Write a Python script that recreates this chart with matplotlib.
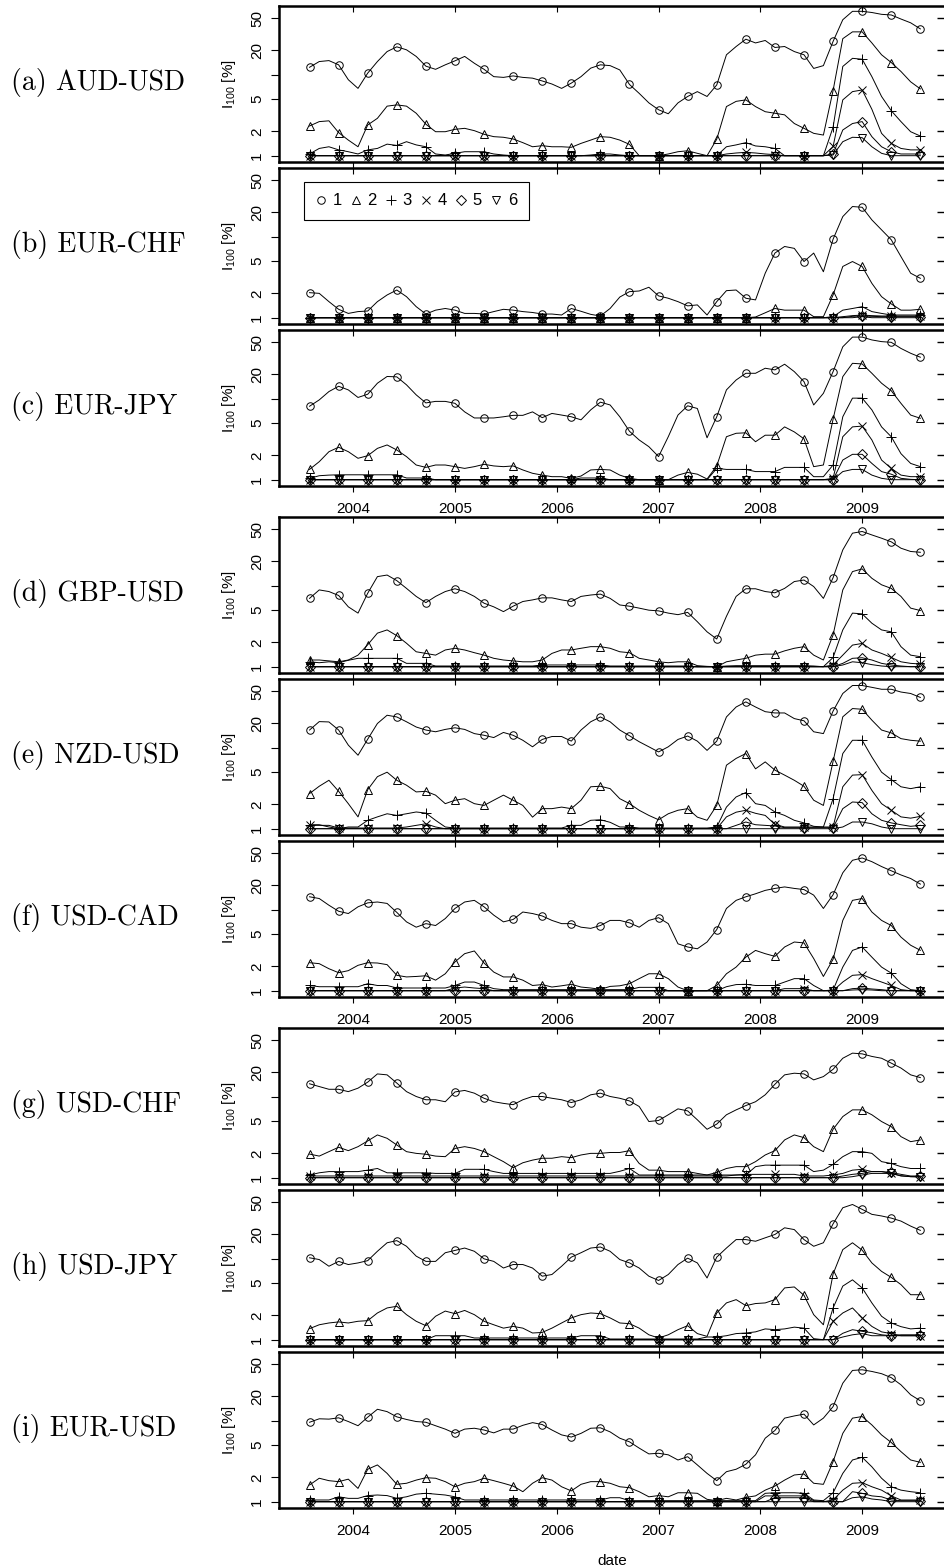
import numpy as np
import matplotlib
matplotlib.use("Agg")
import matplotlib.pyplot as plt
from matplotlib.lines import Line2D
from matplotlib.ticker import NullLocator

plt.rcParams["font.family"] = ["Liberation Sans", "DejaVu Sans"]
plt.rcParams["mathtext.fontset"] = "custom"
plt.rcParams["mathtext.rm"] = "Liberation Sans"
plt.rcParams["mathtext.it"] = "Liberation Sans:italic"
plt.rcParams["mathtext.bf"] = "Liberation Sans:bold"


def v(s):
    out = [float(t) for t in s.split()]
    assert len(out) == 64, (len(out), s[:40])
    return out


# time grid (decimal years), markers on every 3rd point
dates = np.linspace(2003.571, 2009.571, 64)
years = [2004, 2005, 2006, 2007, 2008, 2009]
year_labels = ["2004", "2005", "2006", "2007", "2008", "2009"]
y_ticks = [1, 2, 5, 10, 20, 50]
y_tick_labels = ["1", "2", "5", "", "20", "50"]
series_names = ["1", "2", "3", "4", "5", "6"]
pair_labels = ["(a) AUD-USD", "(b) EUR-CHF", "(c) EUR-JPY", "(d) GBP-USD",
               "(e) NZD-USD", "(f) USD-CAD", "(g) USD-CHF", "(h) USD-JPY",
               "(i) EUR-USD"]

# ---------------- (a) AUD-USD ----------------
aud_usd = [
    v("12.4 14.6 15.0 13.3 8.7 6.8 10.5 14.6 19.4 22.2 "
      "20.4 16.9 12.8 11.7 13.3 14.9 16.9 13.9 11.7 9.5 "
      "9.3 9.7 9.3 9.1 8.4 7.7 6.8 7.9 9.5 12.1 "
      "13.3 13.0 11.5 7.6 5.9 4.5 3.7 3.3 4.5 5.4 "
      "6.2 5.4 7.5 17.7 22.4 27.6 24.8 26.6 21.8 22.4 "
      "19.4 17.7 12.0 13.0 25.9 48 61 61 59 56 "
      "55 49 44 37"),
    v("2.33 2.64 2.7 1.93 1.56 1.29 2.4 2.9 4.1 4.25 "
      "4.1 3.35 2.45 1.98 1.98 2.12 2.18 2.04 1.84 1.72 "
      "1.69 1.61 1.45 1.29 1.33 1.29 1.29 1.27 1.42 1.56 "
      "1.72 1.69 1.56 1.38 1.0 1.0 1.0 1.05 1.12 1.15 "
      "1.07 1.0 1.6 4.05 4.7 4.9 4.05 3.5 3.35 3.2 "
      "2.5 2.18 1.89 1.8 6.4 28 34 34 24.8 17.7 "
      "14.2 11 8.2 6.7"),
    v("1.05 1.23 1.29 1.18 1.12 1.05 1.18 1.23 1.39 1.34 "
      "1.49 1.36 1.29 1.05 1.02 1.07 1.12 1.12 1.12 1.05 "
      "1.02 1 1 1 1 1 1 1 1 1.02 "
      "1.05 1.05 1.02 1 1 1 1 1 1 1 "
      "1 1 1 1.29 1.36 1.45 1.32 1.29 1.23 1 "
      "1 1 1 1 2.25 12.7 16 15.6 9.5 5.4 "
      "3.6 2.64 1.98 1.75"),
    v("1 1 1 1 1 1 1 1 1 1 "
      "1 1 1 1 1 1 1 1 1 1 "
      "1 1 1 1 1 1 1 1 1 1 "
      "1 1 1 1 1 1 1 1 1 1 "
      "1 1 1 1.05 1.08 1.1 1.08 1.05 1.03 1 "
      "1 1 1 1 1.3 4.9 6.2 6.5 3.75 1.89 "
      "1.42 1.23 1.18 1.18"),
    v("1 1 1 1 1 1 1 1 1 1 "
      "1 1 1 1 1 1 1 1 1 1 "
      "1 1 1 1 1 1 1 1 1 1 "
      "1 1 1 1 1 1 1 1 1 1 "
      "1 1 1 1 1 1 1 1 1 1 "
      "1 1 1 1 1.05 2.08 2.5 2.64 1.72 1.29 "
      "1.12 1.05 1.05 1.05"),
    v("1 1 1 1 1 1 1 1 1 1 "
      "1 1 1 1 1 1 1 1 1 1 "
      "1 1 1 1 1 1 1 1 1 1 "
      "1 1 1 1 1 1 1 1 1 1 "
      "1 1 1 1 1 1 1 1 1 1 "
      "1 1 1 1 1.02 1.49 1.69 1.67 1.29 1.07 "
      "1 1 1 1"),
]

# ---------------- (b) EUR-CHF ----------------
eur_chf = [
    v("2.04 2.0 1.58 1.27 1.13 1.19 1.21 1.58 1.91 2.2 "
      "1.82 1.37 1.11 1.24 1.3 1.24 1.13 1.13 1.11 1.19 "
      "1.27 1.24 1.19 1.16 1.11 1.11 1.08 1.3 1.2 1.1 "
      "1.05 1.3 1.8 2.1 2.14 2.38 1.86 1.74 1.58 1.4 "
      "1.44 1.08 1.58 2.16 2.2 1.74 1.66 3.55 6.3 7.6 "
      "7.2 4.95 6.3 3.7 9.35 17.8 23.7 23.2 16.2 12.2 "
      "9.2 5.7 3.55 3.07"),
    v("1 1 1 1 1 1 1 1 1 1 "
      "1 1 1 1 1 1 1 1 1 1 "
      "1 1 1 1 1 1 1 1 1 1 "
      "1 1 1 1 1 1 1 1 1 1 "
      "1 1 1 1 1 1 1.02 1.15 1.3 1.24 "
      "1.24 1.24 1.03 1.03 1.91 4.3 4.95 4.3 2.66 1.82 "
      "1.48 1.24 1.24 1.27"),
    v("1 1 1 1 1 1 1 1 1 1 "
      "1 1 1 1 1 1 1 1 1 1 "
      "1 1 1 1 1 1 1 1 1 1 "
      "1 1 1 1 1 1 1 1 1 1 "
      "1 1 1 1 1 1 1 1 1 1 "
      "1 1 1 1 1.03 1.24 1.3 1.37 1.19 1.13 "
      "1.08 1.08 1.08 1.08"),
    v("1 1 1 1 1 1 1 1 1 1 "
      "1 1 1 1 1 1 1 1 1 1 "
      "1 1 1 1 1 1 1 1 1 1 "
      "1 1 1 1 1 1 1 1 1 1 "
      "1 1 1 1 1 1 1 1 1 1 "
      "1 1 1 1 1 1.03 1.06 1.08 1.06 1.05 "
      "1.05 1.05 1.05 1.05"),
    v("1 1 1 1 1 1 1 1 1 1 "
      "1 1 1 1 1 1 1 1 1 1 "
      "1 1 1 1 1 1 1 1 1 1 "
      "1 1 1 1 1 1 1 1 1 1 "
      "1 1 1 1 1 1 1 1 1 1 "
      "1 1 1 1 1 1 1.04 1.05 1.04 1.03 "
      "1.03 1.03 1.03 1.03"),
    v("1 1 1 1 1 1 1 1 1 1 "
      "1 1 1 1 1 1 1 1 1 1 "
      "1 1 1 1 1 1 1 1 1 1 "
      "1 1 1 1 1 1 1 1 1 1 "
      "1 1 1 1 1 1 1 1 1 1 "
      "1 1 1 1 1 1 1 1.03 1 1 "
      "1 1 1 1"),
]

# ---------------- (c) EUR-JPY ----------------
eur_jpy = [
    v("8.1 9.7 12.3 14.3 12.9 10.4 11.4 15.6 18.9 18.7 "
      "14.9 11.2 8.9 9.3 9.3 8.8 6.9 5.8 5.8 5.8 "
      "6.0 6.25 6.25 6.9 5.85 6.6 6.3 6.0 5.5 7.3 "
      "9.1 8.4 6.0 3.97 3.1 2.56 1.93 3.4 6.3 8.2 "
      "7.6 3.3 6.0 12.9 17.1 20.7 20.7 23.9 22.8 26.8 "
      "21.7 16.3 8.4 11.7 21.7 44 58 58 53.5 51 "
      "50 42 36.6 32.7"),
    v("1.34 1.67 2.22 2.52 2.22 1.84 1.98 2.44 2.69 2.33 "
      "1.93 1.52 1.42 1.52 1.52 1.45 1.38 1.45 1.55 1.48 "
      "1.45 1.48 1.32 1.2 1.14 1.09 1.09 1.04 1.11 1.32 "
      "1.34 1.32 1.14 1.04 1 1 1 1 1.14 1.23 "
      "1.17 1.02 1.48 3.4 3.75 3.8 2.95 3.55 3.55 4.5 "
      "3.9 3.2 1.45 1.52 5.6 18.8 27.5 27 20.7 15.6 "
      "12.6 8.8 6.3 5.75"),
    v("1.04 1.12 1.14 1.15 1.15 1.15 1.15 1.15 1.15 1.15 "
      "1.05 1.05 1.05 1 1 1 1 1 1 1 "
      "1 1 1 1 1 1 1 1 1.05 1.05 "
      "1.05 1 1 1 1 1 1 1 1 1 "
      "1 1 1.38 1.34 1.34 1.34 1.26 1.26 1.26 1.42 "
      "1.42 1.42 1.09 1.09 1.52 6.0 10.2 10.2 7.3 4.5 "
      "3.4 2.1 1.59 1.45"),
    v("1 1 1 1 1 1 1 1 1 1 "
      "1 1 1 1 1 1 1 1 1 1 "
      "1 1 1 1 1 1 1 1 1 1 "
      "1 1 1 1 1 1 1 1 1 1 "
      "1 1 1 1 1 1 1 1 1 1 "
      "1 1 1 1 1.04 3.4 4.5 4.6 3.1 1.75 "
      "1.38 1.14 1.09 1.09"),
    v("1 1 1 1 1 1 1 1 1 1 "
      "1 1 1 1 1 1 1 1 1 1 "
      "1 1 1 1 1 1 1 1 1 1 "
      "1 1 1 1 1 1 1 1 1 1 "
      "1 1 1 1 1 1 1 1 1 1 "
      "1 1 1 1 1 1.75 2.06 2.06 1.59 1.26 "
      "1.17 1.04 1.01 1"),
    v("1 1 1 1 1 1 1 1 1 1 "
      "1 1 1 1 1 1 1 1 1 1 "
      "1 1 1 1 1 1 1 1 1 1 "
      "1 1 1 1 1 1 1 1 1 1 "
      "1 1 1 1 1 1 1 1 1 1 "
      "1 1 1 1 1 1.26 1.34 1.34 1.14 1.04 "
      "1 1 1 1"),
]

# ---------------- (d) GBP-USD ----------------
gbp_usd = [
    v("7.0 8.9 8.5 7.6 5.5 4.6 8.1 13.0 13.6 11.6 "
      "9.3 7.4 6.2 7.4 8.5 9.2 8.5 7.4 6.1 5.5 "
      "4.8 5.6 6.4 6.7 7.1 7.1 6.7 6.4 7.4 7.7 "
      "7.9 7.0 5.8 5.6 5.3 5.0 4.9 4.6 4.4 4.7 "
      "3.6 2.7 2.2 4.2 7.4 9.2 9.2 8.5 8.2 9.3 "
      "11.3 11.8 9.8 7.0 12.6 27.8 44.8 47 42.6 38.8 "
      "35 29.2 26.6 26"),
    v("1.21 1.21 1.18 1.15 1.21 1.39 1.87 2.6 2.85 2.42 "
      "1.95 1.53 1.46 1.39 1.61 1.69 1.61 1.49 1.39 1.27 "
      "1.21 1.18 1.15 1.15 1.21 1.46 1.61 1.61 1.69 1.77 "
      "1.77 1.69 1.53 1.49 1.27 1.21 1.15 1.12 1.15 1.15 "
      "1.03 1.01 1.0 1.15 1.21 1.27 1.39 1.43 1.43 1.57 "
      "1.69 1.77 1.39 1.21 2.47 8.9 15 16.2 12.4 10.3 "
      "9.3 7.4 5.3 4.95"),
    v("1.15 1.12 1.15 1.12 1.2 1.27 1.27 1.27 1.27 1.27 "
      "1.1 1.1 1.1 1.02 1.02 1.02 1.02 1.02 1.02 1.02 "
      "1.02 1.02 1.02 1.02 1.05 1.05 1.05 1.05 1.05 1.05 "
      "1.05 1.02 1.02 1.02 1.02 1.02 1.02 1.02 1.02 1.02 "
      "1 1 1 1.02 1.03 1.03 1.03 1.03 1.03 1.03 "
      "1.03 1.03 1.02 1.0 1.3 2.85 4.6 4.5 3.45 2.85 "
      "2.7 1.77 1.39 1.33"),
    v("1 1 1 1 1 1 1 1 1 1 "
      "1 1 1 1 1 1 1 1 1 1 "
      "1 1 1 1 1 1 1 1 1 1 "
      "1 1 1 1 1 1 1 1 1 1 "
      "1 1 1 1 1 1 1 1 1 1 "
      "1 1 1 1 1.05 1.39 1.85 1.94 1.61 1.46 "
      "1.3 1.15 1.1 1.08"),
    v("1 1 1 1 1 1 1 1 1 1 "
      "1 1 1 1 1 1 1 1 1 1 "
      "1 1 1 1 1 1 1 1 1 1 "
      "1 1 1 1 1 1 1 1 1 1 "
      "1 1 1 1 1 1 1 1 1 1 "
      "1 1 1 1 1 1.1 1.27 1.29 1.21 1.1 "
      "1.05 1.02 1 1"),
    v("1 1 1 1 1 1 1 1 1 1 "
      "1 1 1 1 1 1 1 1 1 1 "
      "1 1 1 1 1 1 1 1 1 1 "
      "1 1 1 1 1 1 1 1 1 1 "
      "1 1 1 1 1 1 1 1 1 1 "
      "1 1 1 1 1 1.05 1.15 1.12 1.06 1.02 "
      "1 1 1 1"),
]

# ---------------- (e) NZD-USD ----------------
nzd_usd = [
    v("16.6 21.1 20.9 16.6 10.8 8.1 12.8 20.0 25.3 24.1 "
      "21.0 18.1 16.6 15.8 16.9 17.7 16.9 15.0 14.3 13.4 "
      "15.5 14.3 12.4 10.3 12.7 13.8 13.8 12.1 16.6 21.0 "
      "24.1 21.0 16.6 14.1 11.9 10.3 8.9 10.3 12.7 14.0 "
      "12.1 9.3 12.1 24.1 32 37 32 28 27 27 "
      "23 21.6 15.8 15.0 28.5 47 59 59 56 53 "
      "53 49 47 42"),
    v("2.72 3.35 3.97 2.9 2.04 1.4 3.04 4.4 5.0 3.97 "
      "3.45 2.85 2.9 2.6 2.04 2.25 2.35 2.04 1.94 2.25 "
      "2.6 2.25 1.94 1.39 1.77 1.77 1.85 1.77 2.25 3.3 "
      "3.35 3.13 2.35 2.04 1.69 1.46 1.29 1.53 1.69 1.77 "
      "1.39 1.27 1.94 6.1 7.4 8.5 5.5 6.7 5.3 4.6 "
      "3.97 3.35 2.25 1.94 6.8 24.2 30.6 30 22 16.6 "
      "15.3 13.0 12.4 12.1"),
    v("1.12 1.12 1.05 1.0 1.05 1.05 1.27 1.4 1.53 1.46 "
      "1.53 1.61 1.56 1.27 1.05 1.02 1.02 1.02 1.02 1.02 "
      "1.02 1.02 1.02 1.02 1.02 1.02 1.02 1.1 1.1 1.27 "
      "1.29 1.2 1.05 1.05 1.02 1.02 1.02 1.02 1.02 1.02 "
      "1.02 1.02 1.05 1.85 2.47 2.8 2.04 1.94 1.61 1.46 "
      "1.27 1.18 1.07 1.05 2.35 8.5 12.4 12.4 7.7 5.0 "
      "4.05 3.3 3.13 3.3"),
    v("1.1 1.1 1.1 1.02 1.02 1.02 1.02 1.02 1.02 1.02 "
      "1.05 1.1 1.15 1.05 1 1 1 1 1 1 "
      "1 1 1 1 1 1 1 1 1 1 "
      "1 1 1 1 1 1 1 1 1 1 "
      "1 1 1 1.4 1.6 1.69 1.55 1.46 1.13 1.05 "
      "1.05 1.05 1.05 1.05 1.05 3.3 4.6 4.66 2.98 2.04 "
      "1.69 1.4 1.35 1.42"),
    v("1 1 1 1 1 1 1 1 1 1 "
      "1 1 1 1 1 1 1 1 1 1 "
      "1 1 1 1 1 1 1 1 1 1 "
      "1 1 1 1 1 1 1 1 1 1 "
      "1 1 1 1 1.1 1.21 1.12 1.1 1.08 1.03 "
      "1.03 1.03 1.03 1.03 1.03 1.77 2.14 2.1 1.53 1.27 "
      "1.18 1.12 1.07 1.1"),
    v("1 1 1 1 1 1 1 1 1 1 "
      "1 1 1 1 1 1 1 1 1 1 "
      "1 1 1 1 1 1 1 1 1 1 "
      "1 1 1 1 1 1 1 1 1 1 "
      "1 1 1 1 1 1 1 1 1 1 "
      "1 1 1 1 1 1.05 1.21 1.21 1.15 1.05 "
      "1 1 1 1"),
]

# ---------------- (f) USD-CAD ----------------
usd_cad = [
    v("14.5 13.8 11.4 9.6 9.0 10.9 12.2 12.5 12.0 9.3 "
      "7.1 6.1 6.75 6.4 7.8 10.4 12.5 13.1 10.9 8.6 "
      "7.1 7.6 9.4 9.0 8.4 7.4 6.75 6.75 6.1 5.9 "
      "6.4 7.4 7.4 6.9 6.1 7.4 8.0 6.75 3.8 3.47 "
      "3.3 4.0 5.7 10.4 13.1 14.5 15.8 17.4 18.4 19.2 "
      "18.4 17.8 15.2 10.4 15.4 28.7 41 43.8 39.4 34.3 "
      "30.4 27 24.4 20.8"),
    v("2.22 2.16 1.87 1.67 1.77 2.06 2.22 2.2 2.1 1.55 "
      "1.48 1.5 1.53 1.35 1.62 2.27 2.87 3.1 2.2 1.7 "
      "1.48 1.48 1.35 1.16 1.19 1.11 1.15 1.2 1.11 1.08 "
      "1.04 1.13 1.15 1.22 1.41 1.62 1.62 1.41 1.11 1.0 "
      "1.0 1.0 1.16 1.62 1.96 2.6 3.15 2.87 2.66 3.47 "
      "4.0 3.9 2.5 1.5 2.45 7.4 13.1 13.8 9.4 7.4 "
      "6.4 4.6 3.65 3.16"),
    v("1.16 1.12 1.12 1.12 1.12 1.12 1.22 1.16 1.16 1.08 "
      "1.08 1.08 1.08 1.08 1.08 1.16 1.28 1.28 1.16 1.06 "
      "1.03 1.03 1.03 1.03 1.03 1.03 1.03 1.03 1.03 1.03 "
      "1.03 1.03 1.03 1.03 1.1 1.1 1.1 1 1 1 "
      "1 1 1 1.12 1.19 1.2 1.16 1.16 1.16 1.28 "
      "1.41 1.41 1.16 1.0 1.02 1.96 3.15 3.47 2.6 1.96 "
      "1.65 1.22 1.03 1.0"),
    v("1 1 1 1 1 1 1 1 1 1 "
      "1 1 1 1 1 1.08 1.11 1.08 1.06 1 "
      "1 1 1 1 1 1 1 1 1 1 "
      "1 1 1 1 1 1 1 1 1 1 "
      "1 1 1 1 1 1 1 1 1 1.06 "
      "1.06 1.06 1 1 1 1.28 1.55 1.58 1.41 1.28 "
      "1.16 1.03 1 1"),
    v("1 1 1 1 1 1 1 1 1 1 "
      "1 1 1 1 1 1 1 1 1 1 "
      "1 1 1 1 1 1 1 1 1 1 "
      "1 1 1 1 1 1 1 1 1 1 "
      "1 1 1 1 1 1 1 1 1 1 "
      "1 1 1 1 1 1 1.06 1.08 1.05 1.03 "
      "1 1 1 1"),
    v("1 1 1 1 1 1 1 1 1 1 "
      "1 1 1 1 1 1 1 1 1 1 "
      "1 1 1 1 1 1 1 1 1 1 "
      "1 1 1 1 1 1 1 1 1 1 "
      "1 1 1 1 1 1 1 1 1 1 "
      "1 1 1 1 1 1 1.02 1.03 1.02 1 "
      "1 1 1 1"),
]

# ---------------- (g) USD-CHF ----------------
usd_chf = [
    v("14.5 13.4 12.4 12.4 11.6 12.8 15.2 19.2 18.7 14.8 "
      "11.6 10.1 9.2 9.2 8.7 11.5 12.0 11.1 9.6 8.7 "
      "8.3 8.0 9.2 10.1 10.1 9.6 9.2 8.5 9.2 10.6 "
      "11.1 10.1 9.6 8.9 7.6 4.95 5.1 6.0 7.1 6.7 "
      "5.2 3.97 4.6 6.0 6.9 7.8 8.7 10.6 14.3 18.7 "
      "19.6 19.2 16.2 17.8 21.9 30 34.7 34 31.6 30 "
      "26.1 22.7 18.7 17.3"),
    v("1.96 1.85 2.1 2.38 2.16 2.42 2.85 3.38 3.07 2.54 "
      "2.1 2.0 1.95 1.85 1.82 2.3 2.42 2.3 2.1 1.82 "
      "1.58 1.33 1.53 1.65 1.74 1.74 1.82 1.77 1.91 2.0 "
      "2.0 2.05 2.05 2.16 1.5 1.24 1.24 1.19 1.19 1.19 "
      "1.13 1.08 1.16 1.3 1.37 1.37 1.58 1.91 2.16 2.93 "
      "3.38 3.13 2.42 2.1 3.97 5.7 6.9 6.9 6.0 4.95 "
      "4.28 3.22 2.79 2.93"),
    v("1.08 1.15 1.19 1.19 1.19 1.19 1.24 1.3 1.15 1.15 "
      "1.15 1.15 1.15 1.13 1.13 1.13 1.27 1.27 1.27 1.19 "
      "1.13 1.13 1.13 1.13 1.13 1.13 1.13 1.13 1.13 1.13 "
      "1.13 1.13 1.2 1.3 1.08 1.08 1.08 1.08 1.08 1.08 "
      "1.08 1.08 1.08 1.08 1.08 1.08 1.37 1.43 1.43 1.43 "
      "1.43 1.43 1.19 1.24 1.46 1.82 2.1 2.1 2.0 1.58 "
      "1.5 1.37 1.3 1.3"),
    v("1.05 1.05 1.05 1.05 1.05 1.05 1.05 1.05 1.05 1.05 "
      "1.05 1.05 1.05 1.05 1.05 1.05 1.05 1.05 1.05 1.05 "
      "1.05 1.05 1.05 1.05 1.05 1.05 1.05 1.05 1.05 1.05 "
      "1.05 1.05 1.05 1.05 1.05 1.05 1.05 1.05 1.05 1.05 "
      "1.05 1.05 1.05 1.05 1.08 1.1 1.1 1.1 1.1 1.1 "
      "1.1 1.05 1.05 1.05 1.08 1.13 1.24 1.27 1.19 1.19 "
      "1.13 1.05 1.03 1.03"),
    v("1 1 1 1 1 1 1 1 1 1 "
      "1 1 1 1 1 1 1 1 1 1 "
      "1 1 1 1 1 1 1 1 1 1 "
      "1 1 1 1 1 1 1 1 1 1 "
      "1 1 1 1 1 1 1 1 1 1 "
      "1 1 1 1 1 1.05 1.1 1.13 1.19 1.19 "
      "1.16 1.1 1.05 1.05"),
    v("1 1 1 1 1 1 1 1 1 1 "
      "1 1 1 1 1 1 1 1 1 1 "
      "1 1 1 1 1 1 1 1 1 1 "
      "1 1 1 1 1 1 1 1 1 1 "
      "1 1 1 1 1 1 1 1 1 1 "
      "1 1 1 1 1 1 1.03 1.08 1.13 1.13 "
      "1.13 1.06 1.03 1.02"),
]

# ---------------- (h) USD-JPY ----------------
usd_jpy = [
    v("10.3 9.8 8.1 9.3 8.5 8.9 9.5 12.4 15.8 16.8 "
      "14.3 10.8 9.3 9.3 11.9 12.7 13.6 12.4 10.0 9.3 "
      "7.7 8.5 8.5 7.7 6.1 6.4 8.1 10.5 11.9 13.6 "
      "14.0 12.4 9.8 8.9 7.7 6.1 5.4 6.4 8.5 10.2 "
      "8.9 5.8 10.5 13.6 17.3 17.3 16.5 18.2 20 24.2 "
      "23 17.3 14.3 15.8 27.1 42.8 47 40.9 35.5 33.9 "
      "31.9 29.3 25.4 22.5"),
    v("1.37 1.53 1.61 1.66 1.61 1.69 1.72 2.14 2.47 2.59 "
      "2.04 1.69 1.49 1.95 2.26 2.1 2.3 2.04 1.69 1.53 "
      "1.39 1.46 1.39 1.21 1.23 1.39 1.61 1.86 2.04 2.14 "
      "2.1 1.86 1.61 1.58 1.39 1.15 1.05 1.15 1.33 1.49 "
      "1.19 1.1 2.14 2.85 3.13 2.64 2.8 2.85 3.13 4.37 "
      "4.49 3.54 2.04 1.53 6.5 13 15.8 12.8 8.9 7.0 "
      "5.9 4.8 3.6 3.6"),
    v("1 1 1 1 1 1 1 1 1 1 "
      "1 1 1 1.12 1.12 1.12 1.12 1.05 1.05 1.05 "
      "1.05 1.05 1.05 1.05 1.05 1.05 1.05 1.05 1.12 1.12 "
      "1.12 1.02 1.02 1.02 1.02 1.02 1.02 1.02 1.02 1.02 "
      "1.02 1.08 1.08 1.12 1.19 1.21 1.25 1.36 1.33 1.36 "
      "1.43 1.39 1.03 1.0 2.47 4.6 5.5 4.37 2.85 1.95 "
      "1.61 1.45 1.36 1.39"),
    v("1 1 1 1 1 1 1 1 1 1 "
      "1 1 1 1 1 1 1 1 1 1 "
      "1 1 1 1 1 1 1 1 1 1 "
      "1 1 1 1 1 1 1 1 1 1 "
      "1 1 1 1 1 1 1 1 1 1 "
      "1 1 1 1 1.69 2.14 2.47 1.86 1.46 1.25 "
      "1.19 1.12 1.12 1.12"),
    v("1 1 1 1 1 1 1 1 1 1 "
      "1 1 1 1 1 1 1 1 1 1 "
      "1 1 1 1 1 1 1 1 1 1 "
      "1 1 1 1 1 1 1 1 1 1 "
      "1 1 1 1 1 1 1 1 1 1 "
      "1 1 1 1 1 1.2 1.33 1.27 1.22 1.15 "
      "1.12 1.15 1.15 1.15"),
    v("1 1 1 1 1 1 1 1 1 1 "
      "1 1 1 1 1 1 1 1 1 1 "
      "1 1 1 1 1 1 1 1 1 1 "
      "1 1 1 1 1 1 1 1 1 1 "
      "1 1 1 1 1 1 1 1 1 1 "
      "1 1 1 1 1 1.08 1.15 1.19 1.12 1.12 "
      "1.12 1.12 1.12 1.12"),
]

# ---------------- (i) EUR-USD ----------------
eur_usd = [
    v("9.6 10.6 10.5 10.9 9.8 8.7 11.1 13.9 13.0 11.2 "
      "10.4 9.8 9.6 8.7 7.9 7.0 7.9 8.1 7.7 7.1 "
      "7.9 7.9 8.8 9.5 9.0 7.7 6.7 6.3 7.0 8.1 "
      "8.2 7.3 6.1 5.5 4.6 3.9 3.97 3.8 3.28 3.6 "
      "2.85 2.24 1.82 2.35 2.52 2.9 3.8 6.1 7.6 10.8 "
      "11.5 12.1 8.9 10.8 15.0 29.2 42 42.8 40.8 38.3 "
      "34.2 27.9 21.0 17.7"),
    v("1.61 1.95 1.82 1.77 1.9 1.46 2.52 2.85 2.24 1.64 "
      "1.69 1.85 1.98 1.95 1.77 1.53 1.69 1.77 1.95 1.82 "
      "1.69 1.56 1.33 1.69 1.98 1.85 1.53 1.36 1.64 1.77 "
      "1.77 1.69 1.53 1.49 1.33 1.15 1.19 1.15 1.29 1.29 "
      "1.27 1.07 1.03 1.1 1.05 1.13 1.18 1.39 1.56 1.85 "
      "2.14 2.2 1.69 1.64 3.13 7.0 10.8 11.3 8.9 6.7 "
      "5.4 4.16 3.28 3.07"),
    v("1.05 1.05 1.05 1.15 1.1 1.1 1.19 1.21 1.19 1.1 "
      "1.15 1.24 1.27 1.24 1.21 1.15 1.05 1.05 1.05 1.05 "
      "1.05 1.05 1.05 1.05 1.05 1.05 1.05 1.05 1.05 1.05 "
      "1.05 1.12 1.12 1.03 1.03 1.03 1.03 1.03 1.03 1.03 "
      "1.03 1.03 1.03 1.03 1.03 1.03 1.03 1.27 1.29 1.29 "
      "1.29 1.27 1.05 1.03 1.29 2.24 3.28 3.54 2.7 1.95 "
      "1.53 1.39 1.33 1.29"),
    v("1 1 1 1 1 1 1 1 1 1 "
      "1 1 1 1 1 1 1 1 1 1 "
      "1 1 1 1 1 1 1 1 1 1 "
      "1 1 1 1 1 1 1 1 1 1 "
      "1 1 1 1 1 1 1 1.18 1.18 1.18 "
      "1.18 1.18 1.03 1.0 1.05 1.39 1.69 1.72 1.53 1.39 "
      "1.18 1.05 1.05 1.05"),
    v("1 1 1 1 1 1 1 1 1 1 "
      "1 1 1 1 1 1 1 1 1 1 "
      "1 1 1 1 1 1 1 1 1 1 "
      "1 1 1 1 1 1 1 1 1 1 "
      "1 1 1 1 1 1 1 1 1.12 1.12 "
      "1.12 1.12 1 1 1 1 1.33 1.27 1.18 1.15 "
      "1.05 1.03 1.03 1.03"),
    v("1 1 1 1 1 1 1 1 1 1 "
      "1 1 1 1 1 1 1 1 1 1 "
      "1 1 1 1 1 1 1 1 1 1 "
      "1 1 1 1 1 1 1 1 1 1 "
      "1 1 1 1 1 1 1 1 1 1 "
      "1 1 1 1 1 1 1.12 1.15 1.08 1.05 "
      "1 1 1 1"),
]

panels = [aud_usd, eur_chf, eur_jpy, gbp_usd, nzd_usd,
          usd_cad, usd_chf, usd_jpy, eur_usd]

markers = ["o", "^", "+", "x", "D", "v"]
msizes = [5.4, 6.2, 7.0, 5.4, 5.0, 6.2]

# ---------------- layout (pixels) ----------------
W, H = 944, 1566
fig = plt.figure(figsize=(W / 100, H / 100), dpi=100)
group_tops = [6, 517, 1028]
row_step = 162
ph = 155.7
ax_left, ax_right = 279, 946
x_lo, x_hi = 2003.271, 2009.823
y_lo, y_hi = 0.843, 71.0

for k, (name, series) in enumerate(zip(pair_labels, panels)):
    top = group_tops[k // 3] + (k % 3) * row_step
    ax = fig.add_axes([ax_left / W, 1 - (top + ph) / H,
                       (ax_right - ax_left) / W, ph / H])
    for s, vals in enumerate(series):
        ax.plot(dates, vals, color="black", lw=0.7, marker=markers[s],
                ms=msizes[s], mfc="none", mec="black", mew=0.7,
                markevery=3, zorder=3 + (5 - s) * 0.01)
    ax.set_yscale("log")
    ax.set_ylim(y_lo, y_hi)
    ax.set_xlim(x_lo, x_hi)
    ax.set_yticks(y_ticks)
    ax.set_yticklabels(y_tick_labels, rotation=90, va="center")
    ax.yaxis.set_minor_locator(NullLocator())
    ax.tick_params(axis="y", which="major", direction="out", length=5.8,
                   width=0.8, labelsize=11, pad=5, right=False)
    ax.set_xticks(years)
    ax.tick_params(axis="x", which="major", direction="out", length=4.5,
                   width=0.8, labelsize=11, pad=7, top=False)
    if k % 3 == 2:
        ax.set_xticklabels(year_labels)
    else:
        ax.set_xticklabels([])
    for sp in ax.spines.values():
        sp.set_linewidth(1.8)
    ax.set_ylabel(r"I$_{100}$ [%]", fontsize=11, labelpad=9)

    # inward ticks on top and right
    sx = ax.secondary_xaxis("top")
    sx.set_xticks(years)
    sx.tick_params(axis="x", direction="in", length=4.5, width=0.8,
                   labeltop=False)
    sx.spines["top"].set_visible(False)
    sy = ax.secondary_yaxis("right")
    sy.set_yticks(y_ticks)
    sy.yaxis.set_minor_locator(NullLocator())
    sy.tick_params(axis="y", direction="in", length=6.5, width=1.0,
                   labelright=False)
    sy.spines["right"].set_visible(False)

    fig.text(11 / W, 1 - (top + ph / 2 - 1) / H, name, family="cmr10",
             fontsize=20, ha="left", va="center")

    if k == 1:
        handles = [Line2D([], [], ls="none", marker=m, ms=ms, mfc="none",
                          mec="black", mew=0.7)
                   for m, ms in zip(markers, msizes)]
        leg = ax.legend(handles, series_names, ncol=6, loc="upper left",
                        bbox_to_anchor=(25 / (ax_right - ax_left), 1 - 13.7 / ph),
                        frameon=True, fancybox=False, edgecolor="black",
                        framealpha=1, fontsize=12, handlelength=0.6,
                        handletextpad=0.4, columnspacing=0.55,
                        borderpad=0.7, borderaxespad=0)
        leg.get_frame().set_linewidth(0.8)
    if k == 8:
        ax.set_xlabel("date", fontsize=11, labelpad=12)

fig.savefig("out.png", dpi=100)
